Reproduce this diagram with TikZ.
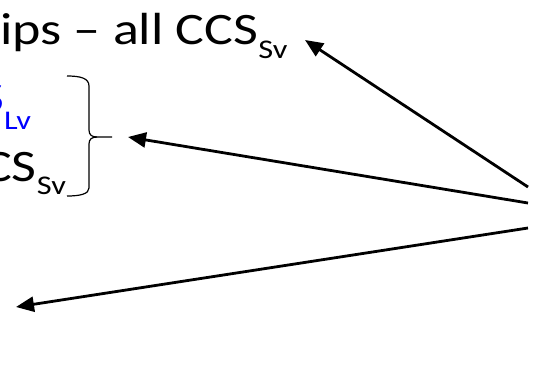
\documentclass[tikz,border=0pt]{standalone}
\usepackage{graphicx}
\usepackage{fontspec}
\setmainfont{Carlito}
\usetikzlibrary{arrows.meta}

% subscript, dropped below the baseline
\newcommand{\subtxt}[2][-14pt]{\raisebox{#1}{\fontsize{27}{27}\selectfont #2}}
% text is set a little wide
\newcommand{\wide}[1]{\scalebox{1.2}[1]{#1}}

\begin{document}
\begin{tikzpicture}[x=1pt,y=-1pt,
	lbl/.style={inner sep=0pt,font=\fontsize{45}{45}\selectfont},
	ptr/.style={line width=2.8pt,-{Triangle[length=18pt,width=15pt]}}]
	\useasboundingbox (0,0) rectangle (537,391);
	\clip (0,0) rectangle (537,391);

	\node[lbl,anchor=base west](head) at (0,44) {\wide{ips -- all CCS\subtxt{Sv}}};
	\node[lbl,anchor=base west,text=blue](lv) at (-21,112) {\wide{S\subtxt[-17pt]{Lv}}};
	\node[lbl,anchor=base west](sv) at (-17,181) {\wide{CS\subtxt[-13pt]{Sv}}};

	% brace round the two lines
	\draw[line width=1.2pt] (67,76) .. controls (80,76) and (89,78) .. (89,86) -- (89,130)
		.. controls (89,135) and (92,137) .. (97,137) -- (112,137);
	\draw[line width=1.2pt] (97,137) .. controls (92,137) and (89,139) .. (89,144) -- (89,188)
		.. controls (89,194) and (80,196) .. (67,196);
	\coordinate (bracetip) at (128,137);

	\coordinate (s1) at (528,187);
	\coordinate (s2) at (528,203);
	\coordinate (s3) at (528,228);
	\coordinate (headend) at (305,40);
	\coordinate (free) at (16,307);

	\draw[ptr] (s1) -- (headend);
	\draw[ptr] (s2) -- (bracetip);
	\draw[ptr] (s3) -- (free);
\end{tikzpicture}
\end{document}
